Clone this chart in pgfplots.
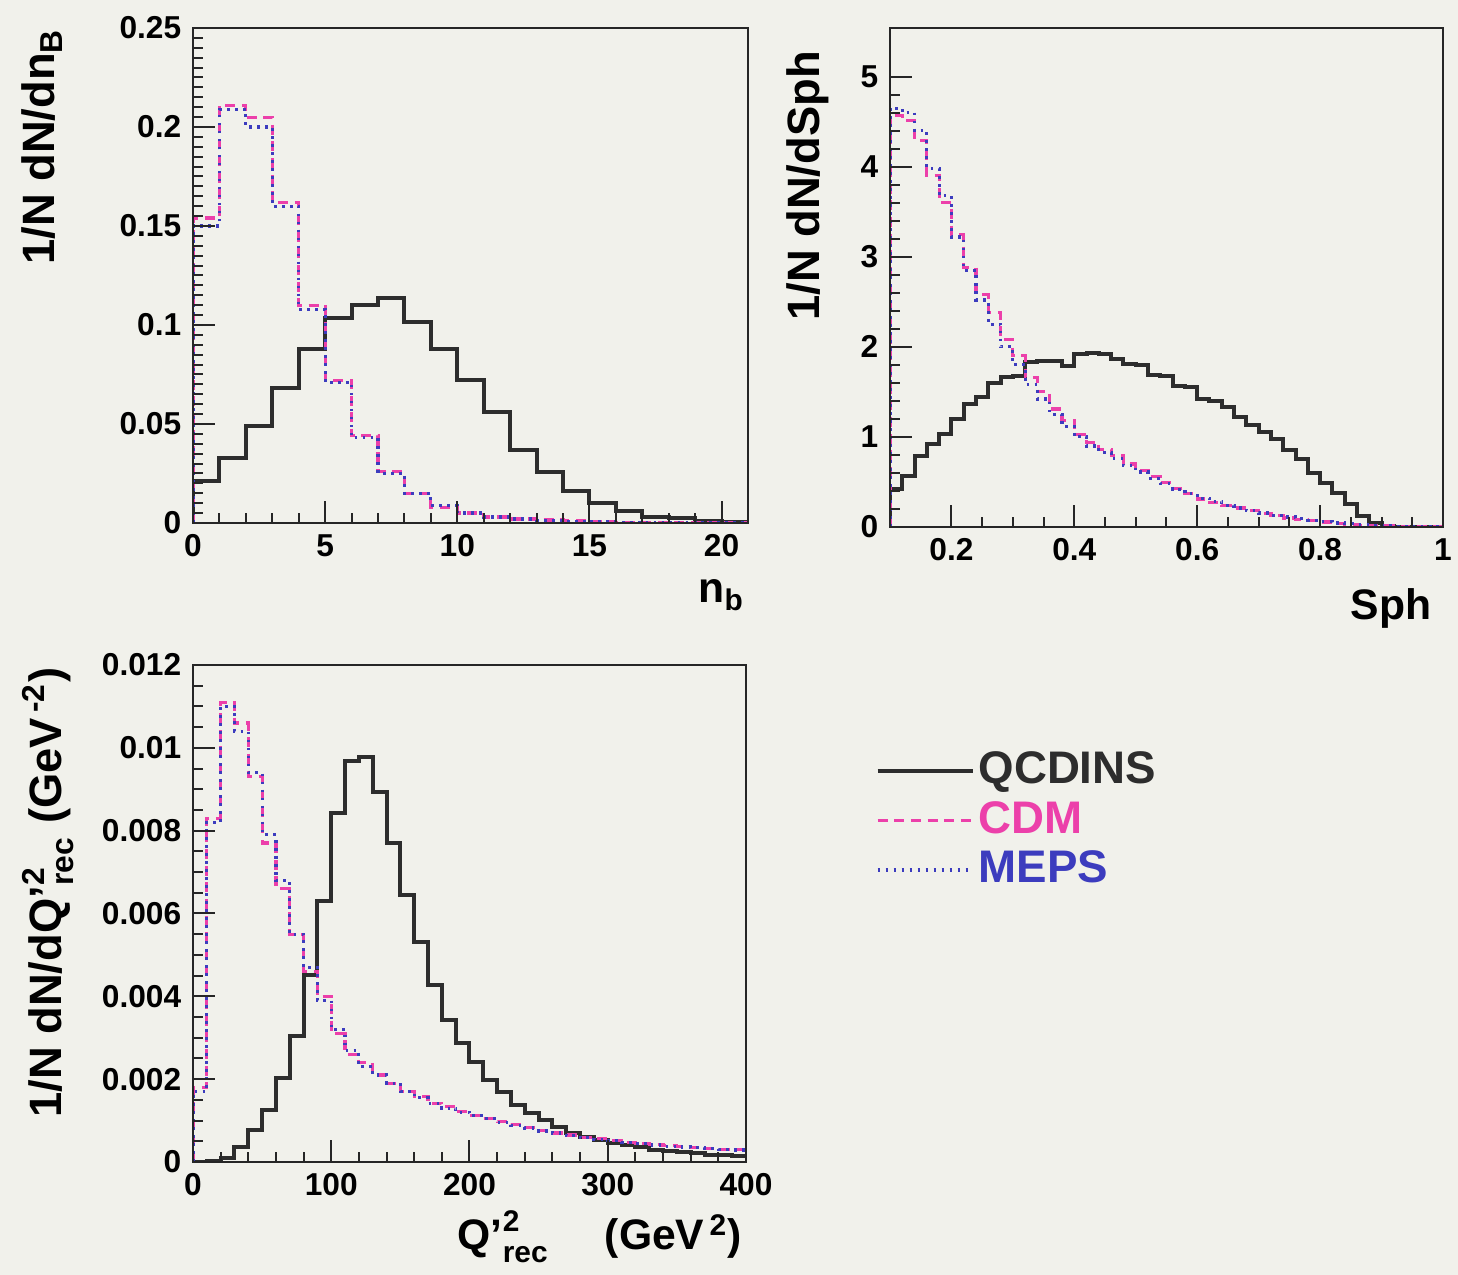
\documentclass[border=0pt]{standalone}
\usepackage{fontspec}
\setmainfont{Liberation Sans}
\usepackage{amsmath}
\usepackage{pgfplots}
\pgfplotsset{compat=1.18}

\definecolor{bg}{RGB}{241,241,235}
\definecolor{qcd}{RGB}{45,45,45}
\definecolor{cdm}{RGB}{236,64,170}
\definecolor{meps}{RGB}{60,60,190}

\pgfplotsset{
  hist/.style={
    scale only axis,
    tick align=inside,
    xtick pos=bottom, ytick pos=left,
    axis line style={line width=0.7pt, draw=black!85},
    major tick length=6.5pt, minor tick length=3pt,
    every tick/.style={line width=0.6pt, black!85},
    tick label style={font=\fontsize{9.5}{11}\selectfont\bfseries},
    /pgf/number format/assume math mode=true,
    xlabel style={font=\fontsize{12.8}{14}\selectfont\bfseries, inner sep=0pt},
    ylabel style={font=\fontsize{13.6}{15}\selectfont\bfseries, inner sep=0pt},
    scaled ticks=false,
    axis on top,
  },
  qcdst/.style={const plot, no marks, line width=1.2pt, color=qcd},
  cdmst/.style={const plot, no marks, line width=0.95pt, color=cdm, dash pattern=on 3pt off 2pt},
  mepsst/.style={const plot, no marks, line width=0.95pt, color=meps, dash pattern=on 0.8pt off 1.6pt},
}

\begin{document}
\begin{tikzpicture}
\useasboundingbox (0,0) rectangle (437.4pt,382.5pt);
\fill[bg] (0,0) rectangle (437.4pt,382.5pt);

% ---------- top left: n_B ----------
\begin{axis}[hist,
  at={(57.9pt,225.6pt)}, anchor=south west,
  width=166.5pt, height=148.5pt,
  xmin=0, xmax=21, ymin=0, ymax=0.25,
  xtick={0,5,10,15,20}, minor x tick num=4,
  ytick={0,0.05,0.1,0.15,0.2,0.25}, minor y tick num=9,
  yticklabel style={/pgf/number format/fixed, /pgf/number format/precision=2},
  xlabel={n\textsubscript{b}},
  ylabel={1/N dN/dn$_{\text{B}}$},
  xlabel style={at={(axis description cs:0.995,-0.16)}, anchor=base east},
  ylabel style={at={(axis description cs:-0.272,1)}, anchor=east},
]
\addplot[qcdst] coordinates {(0,0) (0,0.021) (1,0.033) (2,0.049) (3,0.068) (4,0.088) (5,0.1035) (6,0.110) (7,0.1136) (8,0.1017) (9,0.088) (10,0.072) (11,0.056) (12,0.037) (13,0.026) (14,0.016) (15,0.010) (16,0.006) (17,0.0032) (18,0.0025) (19,0.0008) (20,0.0003) (21,0.0003) (21,0)};
\addplot[cdmst] coordinates {(0,0) (0,0.154) (1,0.211) (2,0.205) (3,0.162) (4,0.110) (5,0.072) (6,0.044) (7,0.026) (8,0.015) (9,0.008) (10,0.005) (11,0.003) (12,0.002) (13,0.0015) (14,0.001) (15,0.0006) (16,0.0004) (17,0.0002) (18,0.0001) (19,0) (20,0) (21,0)};
\addplot[mepsst] coordinates {(0,0) (0,0.150) (1,0.209) (2,0.200) (3,0.160) (4,0.108) (5,0.071) (6,0.043) (7,0.025) (8,0.015) (9,0.009) (10,0.005) (11,0.003) (12,0.002) (13,0.0013) (14,0.0009) (15,0.0005) (16,0.0003) (17,0.0002) (18,0.0001) (19,0) (20,0) (21,0)};
\end{axis}

% ---------- top right: Sph ----------
\begin{axis}[hist,
  at={(267pt,224.4pt)}, anchor=south west,
  width=165.9pt, height=149.7pt,
  xmin=0.1, xmax=1, ymin=0, ymax=5.54,
  xtick={0.2,0.4,0.6,0.8,1}, minor x tick num=3,
  extra x ticks={0.1}, extra x tick labels={},
  ytick={0,1,2,3,4,5}, minor y tick num=4,
  xlabel={Sph},
  ylabel={1/N dN/dSph},
  xlabel style={at={(axis description cs:0.98,-0.186)}, anchor=base east},
  ylabel style={at={(axis description cs:-0.148,0.955)}, anchor=east},
]
\addplot[qcdst] coordinates {(0.10,0) (0.10,0.42) (0.12,0.57) (0.14,0.79) (0.16,0.92) (0.18,1.03) (0.20,1.20) (0.22,1.37) (0.24,1.44) (0.26,1.60) (0.28,1.66) (0.30,1.68) (0.32,1.83) (0.34,1.84) (0.36,1.84) (0.38,1.79) (0.40,1.92) (0.42,1.93) (0.44,1.92) (0.46,1.87) (0.48,1.81) (0.50,1.80) (0.52,1.69) (0.54,1.68) (0.56,1.56) (0.58,1.55) (0.60,1.42) (0.62,1.40) (0.64,1.33) (0.66,1.22) (0.68,1.13) (0.70,1.05) (0.72,0.98) (0.74,0.86) (0.76,0.75) (0.78,0.60) (0.80,0.49) (0.82,0.38) (0.84,0.25) (0.86,0.12) (0.88,0.045) (0.90,0.012) (0.92,0.005) (0.94,0) (0.96,0) (0.98,0) (1.00,0)};
\addplot[cdmst] coordinates {(0.10,0) (0.10,4.57) (0.12,4.51) (0.14,4.29) (0.16,3.90) (0.18,3.60) (0.20,3.25) (0.22,2.88) (0.24,2.58) (0.26,2.38) (0.28,2.08) (0.30,1.90) (0.32,1.66) (0.34,1.50) (0.36,1.31) (0.38,1.18) (0.40,1.03) (0.42,0.94) (0.44,0.86) (0.46,0.79) (0.48,0.70) (0.50,0.63) (0.52,0.56) (0.54,0.49) (0.56,0.43) (0.58,0.37) (0.60,0.31) (0.62,0.27) (0.64,0.24) (0.66,0.21) (0.68,0.18) (0.70,0.15) (0.72,0.13) (0.74,0.10) (0.76,0.085) (0.78,0.07) (0.80,0.055) (0.82,0.04) (0.84,0.03) (0.86,0.02) (0.88,0.015) (0.90,0.01) (0.92,0.006) (0.94,0.004) (0.96,0.002) (0.98,0.001) (1.00,0.001) (1.00,0)};
\addplot[mepsst] coordinates {(0.10,0) (0.10,4.65) (0.12,4.60) (0.14,4.40) (0.16,3.98) (0.18,3.68) (0.20,3.22) (0.22,2.85) (0.24,2.52) (0.26,2.25) (0.28,2.00) (0.30,1.80) (0.32,1.58) (0.34,1.42) (0.36,1.25) (0.38,1.12) (0.40,1.00) (0.42,0.90) (0.44,0.83) (0.46,0.76) (0.48,0.68) (0.50,0.61) (0.52,0.54) (0.54,0.48) (0.56,0.42) (0.58,0.37) (0.60,0.32) (0.62,0.28) (0.64,0.24) (0.66,0.21) (0.68,0.18) (0.70,0.155) (0.72,0.13) (0.74,0.11) (0.76,0.09) (0.78,0.075) (0.80,0.06) (0.82,0.045) (0.84,0.035) (0.86,0.025) (0.88,0.018) (0.90,0.012) (0.92,0.008) (0.94,0.005) (0.96,0.003) (0.98,0.001) (1.00,0.001) (1.00,0)};
\end{axis}

% ---------- bottom left: Q'^2_rec ----------
\begin{axis}[hist,
  at={(57.9pt,33.9pt)}, anchor=south west,
  width=165.9pt, height=149.1pt,
  xmin=0, xmax=400, ymin=0, ymax=0.012,
  xtick={0,100,200,300,400}, minor x tick num=4,
  ytick={0,0.002,0.004,0.006,0.008,0.01,0.012}, minor y tick num=3,
  yticklabel style={/pgf/number format/fixed, /pgf/number format/precision=3},
  xlabel={Q'$^{\text{\raisebox{1.2pt}{2}}}_{\text{\raisebox{-0.8pt}{rec}}}$\hspace{1.3em}(GeV$^{\,\text{2}}$)},
  ylabel={1/N dN/dQ'$^{\text{2}}_{\text{rec}}$ (GeV$^{\,\text{-2}}$)},
  xlabel style={at={(axis description cs:0.994,-0.177)}, anchor=base east},
  ylabel style={at={(axis description cs:-0.262,0.996)}, anchor=east},
  legend style={at={(axis description cs:1.233,0.837)}, anchor=north west,
    draw=none, fill=none, inner sep=0pt, row sep=0pt,
    font=\fontsize{13.7}{15}\selectfont\bfseries,
    nodes={inner sep=1.2pt, text height=10pt, text depth=2.4pt}},
  legend cell align=left,
  legend image code/.code={\draw[#1] (0pt,0pt) -- (28.5pt,0pt);},
]
\addplot[qcdst] coordinates {(0,0) (10,0.00003) (20,0.00009) (30,0.00037) (40,0.00077) (50,0.00126) (60,0.00202) (70,0.00303) (80,0.00452) (90,0.00629) (100,0.00842) (110,0.00967) (120,0.00979) (130,0.00894) (140,0.0077) (150,0.00645) (160,0.00532) (170,0.00427) (180,0.00343) (190,0.00287) (200,0.00242) (210,0.00198) (220,0.0017) (230,0.00138) (240,0.00118) (250,0.00101) (260,0.00085) (270,0.0007) (280,0.0006) (290,0.00052) (300,0.00046) (310,0.0004) (320,0.00035) (330,0.0003) (340,0.00027) (350,0.00024) (360,0.00021) (370,0.00018) (380,0.00016) (390,0.00014) (400,0.00014)};
\addlegendentry{\textcolor{qcd}{QCDINS}}
\addplot[cdmst] coordinates {(0,0) (0,0.0018) (10,0.0083) (20,0.0111) (30,0.0106) (40,0.0093) (50,0.0077) (60,0.0066) (70,0.0055) (80,0.0046) (90,0.0040) (100,0.0031) (110,0.0026) (120,0.0024) (130,0.0021) (140,0.0019) (150,0.0017) (160,0.00158) (170,0.00142) (180,0.00133) (190,0.00121) (200,0.00113) (210,0.00105) (220,0.00097) (230,0.0009) (240,0.00083) (250,0.00076) (260,0.0007) (270,0.00065) (280,0.0006) (290,0.00056) (300,0.00052) (310,0.00048) (320,0.00045) (330,0.00042) (340,0.00039) (350,0.00037) (360,0.00035) (370,0.00033) (380,0.00031) (390,0.0003) (400,0.0003)};
\addlegendentry{\textcolor{cdm}{CDM}}
\addplot[mepsst] coordinates {(0,0) (0,0.0017) (10,0.0082) (20,0.0110) (30,0.0104) (40,0.0094) (50,0.0079) (60,0.0068) (70,0.0055) (80,0.0047) (90,0.0039) (100,0.0032) (110,0.0027) (120,0.0023) (130,0.0021) (140,0.0019) (150,0.0017) (160,0.00155) (170,0.00142) (180,0.0013) (190,0.0012) (200,0.00112) (210,0.00104) (220,0.00096) (230,0.00089) (240,0.00082) (250,0.00075) (260,0.0007) (270,0.00064) (280,0.00059) (290,0.00055) (300,0.00051) (310,0.00047) (320,0.00044) (330,0.00041) (340,0.00038) (350,0.00036) (360,0.00034) (370,0.00032) (380,0.0003) (390,0.00029) (400,0.00029)};
\addlegendentry{\textcolor{meps}{MEPS}}
\end{axis}
\end{tikzpicture}
\end{document}
